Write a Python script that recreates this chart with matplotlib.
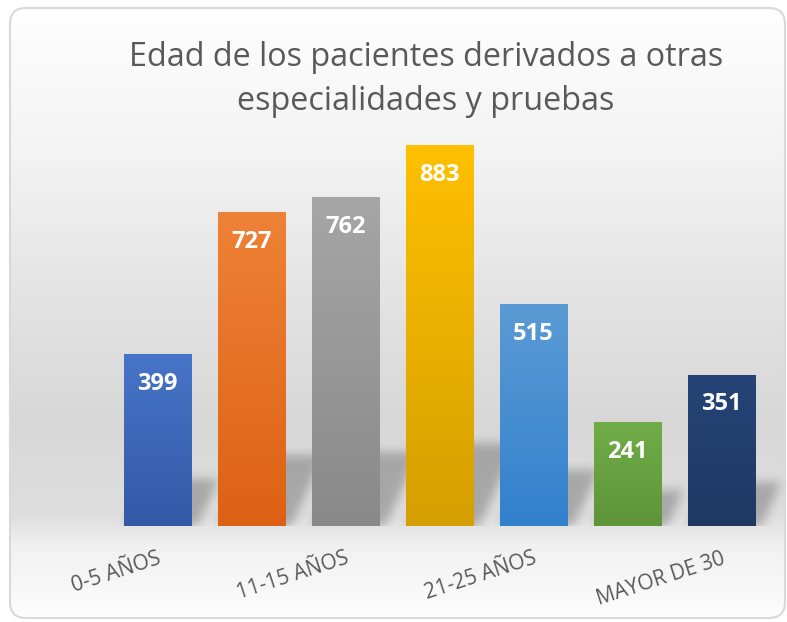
import matplotlib
matplotlib.use("Agg")

import matplotlib.pyplot as plt
import numpy as np
from matplotlib.colors import to_rgb
from matplotlib.patches import FancyBboxPatch
from matplotlib.path import Path

# data
categories = [
    "0-5 AÑOS", "6-10 AÑOS", "11-15 AÑOS", "16-20 AÑOS",
    "21-25 AÑOS", "26-30 AÑOS", "MAYOR DE 30",
]
values = [399, 727, 762, 883, 515, 241, 351]
top_colors = ["#4775c8", "#ee8236", "#a6a6a6", "#ffc000", "#5b9bd5", "#70ad47", "#264478"]
bottom_colors = ["#3259a6", "#dd6114", "#898989", "#d59f00", "#3281cd", "#5e943a", "#1f3864"]
title_lines = ["Edad de los pacientes derivados a otras", "especialidades y pruebas"]

FIG_W, FIG_H = 787, 622
BASE_Y = 526          # pixel row of the category axis
AX_LEFT, AX_RIGHT = 110.5, 768
YMAX = 1000
PX_PER_UNIT = 0.4315

plt.rcParams["font.family"] = ["Open Sans", "DejaVu Sans"]

fig = plt.figure(figsize=(FIG_W / 100, FIG_H / 100), dpi=100)

# background: rounded frame with a vertical grey gradient
bg = fig.add_axes([0, 0, 1, 1])
bg.set_xlim(0, FIG_W)
bg.set_ylim(FIG_H, 0)
bg.axis("off")

stops_y = [0, 150, 300, 420, 515, 545, FIG_H]
stops_v = [1.0, 0.955, 0.89, 0.845, 0.87, 0.945, 0.995]
rows = np.interp(np.arange(FIG_H), stops_y, stops_v)
grad = np.repeat(rows[:, None], 4, axis=1)
grad = np.dstack([grad, grad, grad])
frame = FancyBboxPatch(
    (10, 8), 775, 610,
    boxstyle="round,pad=0,rounding_size=16",
    facecolor="none", edgecolor="#d9d9d9", linewidth=1.5, zorder=3,
)
bg.add_patch(frame)
img = bg.imshow(grad, extent=(0, FIG_W, FIG_H, 0), aspect="auto", zorder=1)
img.set_clip_path(frame)

for line, y_base in zip(title_lines, [66, 110]):
    bg.text(
        426, y_base, line, ha="center", va="baseline",
        fontsize=23.3, color="#595959",
    )

# plot area
ax_h = YMAX * PX_PER_UNIT
ax = fig.add_axes([
    AX_LEFT / FIG_W,
    (FIG_H - BASE_Y) / FIG_H,
    (AX_RIGHT - AX_LEFT) / FIG_W,
    ax_h / FIG_H,
])
ax.patch.set_visible(False)
for side in ax.spines.values():
    side.set_visible(False)
ax.set_yticks([])

x = np.arange(len(categories))
bar_w = 0.714

# soft perspective shadows behind the bars, built on a pixel grid and blurred
px_per_cat = (AX_RIGHT - AX_LEFT) / len(categories)
extra_px = 25
grid_w = int(len(categories) * px_per_cat + extra_px)
grid_h = 160
gx, gy = np.meshgrid(np.arange(grid_w) + 0.5, np.arange(grid_h) + 0.5)
pts = np.column_stack([gx.ravel(), gy.ravel()])
mask = np.zeros(gx.size)
for xi, v in zip(x, values):
    left = (xi - bar_w / 2 + 0.5) * px_per_cat
    right = (xi + bar_w / 2 + 0.5) * px_per_cat
    h = 0.17 * v * PX_PER_UNIT + 18
    s = 0.45 * h
    poly = Path([(left, 0), (right + 6, 0), (right + 6 + s, h), (left + s, h), (left, 0)])
    mask = np.maximum(mask, poly.contains_points(pts).astype(float))
mask = mask.reshape(gy.shape)

k = np.arange(-15, 16)
kernel = np.exp(-0.5 * (k / 5.0) ** 2)
kernel /= kernel.sum()
mask = np.apply_along_axis(lambda r: np.convolve(r, kernel, mode="same"), 1, mask)
mask = np.apply_along_axis(lambda c: np.convolve(c, kernel, mode="same"), 0, mask)
shadow = np.zeros((grid_h, grid_w, 4))
shadow[..., 3] = mask * 0.24
ax.imshow(
    shadow, origin="lower", aspect="auto", zorder=1, clip_on=False,
    extent=(-0.5, -0.5 + grid_w / px_per_cat, 0, grid_h / PX_PER_UNIT),
)

# bars with a top-to-bottom gradient
bars = ax.bar(x, values, width=bar_w, color=bottom_colors, linewidth=0, zorder=2)
ramp = np.linspace(0, 1, 256)[:, None]
for rect, xi, v, c_top, c_bot in zip(bars, x, values, top_colors, bottom_colors):
    t = np.array(to_rgb(c_top))
    b = np.array(to_rgb(c_bot))
    col = b + (t - b) * ramp
    im = ax.imshow(
        col[:, None, :], origin="lower", aspect="auto", zorder=3,
        extent=(xi - bar_w / 2, xi + bar_w / 2, 0, v),
    )
    im.set_clip_path(rect)
    ax.annotate(
        f"{v}", (xi, v), xytext=(0, -21.5), textcoords="offset points",
        ha="center", va="center", color="white", fontsize=17,
        fontweight="bold", zorder=4,
    )

ax.set_xlim(-0.5, len(categories) - 0.5)
ax.set_ylim(0, YMAX)

# only every other category label is shown, as in the reference
tick_labels = [c if i % 2 == 0 else "" for i, c in enumerate(categories)]
ax.set_xticks(x)
ax.set_xticklabels(
    tick_labels, rotation=18, ha="right", rotation_mode="anchor",
    fontsize=15, color="#595959",
)
ax.tick_params(axis="x", length=0, pad=16)

fig.savefig("out.png", dpi=100)
